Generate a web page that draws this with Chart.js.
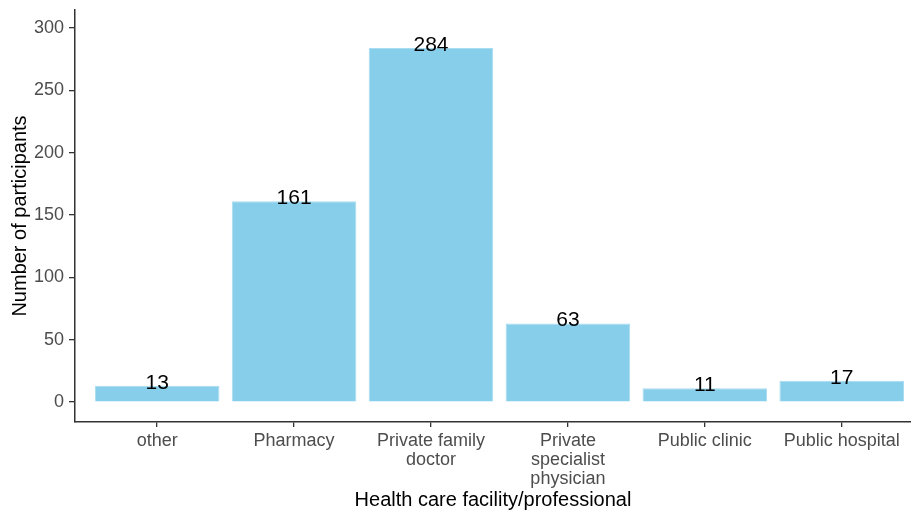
<!DOCTYPE html>
<html>
<head>
<meta charset="utf-8">
<script src="https://cdn.jsdelivr.net/npm/chart.js@4/dist/chart.umd.min.js"></script>
<style>
  html, body { margin: 0; padding: 0; background: #fff; }
  #wrap { width: 911px; height: 510px; }
</style>
</head>
<body>
<div id="wrap"><canvas id="facilityChart" width="911" height="510"></canvas></div>
<script>
// ======== Data ========
const categories = ['other', 'Pharmacy', 'Private family doctor', 'Private specialist physician', 'Public clinic', 'Public hospital'];
const tickLabels = [['other'], ['Pharmacy'], ['Private family', 'doctor'], ['Private', 'specialist', 'physician'], ['Public clinic'], ['Public hospital']];
const participants = [13, 161, 284, 63, 11, 17];
const yTicks = [0, 50, 100, 150, 200, 250, 300];

// value labels on top of bars
const barValueLabels = {
  id: 'barValueLabels',
  afterDatasetsDraw(chart) {
    const ctx = chart.ctx;
    const meta = chart.getDatasetMeta(0);
    ctx.save();
    ctx.font = '21px "Liberation Sans", Arial, sans-serif';
    ctx.fillStyle = '#000';
    ctx.textAlign = 'center';
    ctx.textBaseline = 'alphabetic';
    meta.data.forEach(function(bar, i) {
      ctx.fillText(String(participants[i]), bar.x, bar.y + 3);
    });
    ctx.restore();
  }
};

const ctx = document.getElementById('facilityChart').getContext('2d');
new Chart(ctx, {
  type: 'bar',
  data: {
    datasets: [{
      label: 'Number of participants',
      data: participants.map(function(v, i) { return {x: i, y: v}; }),
      backgroundColor: '#87CEEB',
      borderColor: '#a9dcf0',
      borderWidth: 1,
      barPercentage: 0.91,
      categoryPercentage: 1
    }]
  },
  options: {
    responsive: false,
    animation: false,
    layout: { padding: { top: 10, right: 0, left: 0, bottom: 0 } },
    plugins: { legend: { display: false }, tooltip: { enabled: false } },
    scales: {
      x: {
        type: 'linear',
        offset: false,
        min: -0.6,
        max: 5.506,
        afterBuildTicks: function(scale) { scale.ticks = categories.map(function(c, i) { return {value: i}; }); },
        afterFit: function(scale) {
          scale.height = 88;
          scale.paddingLeft = 0;
          scale.paddingRight = 0;
        },
        ticks: {
          callback: function(v) { return tickLabels[v]; },
          color: '#4d4d4d',
          font: { family: '"Liberation Sans", Arial, sans-serif', size: 18, lineHeight: 1.06 },
          padding: 4,
          maxRotation: 0,
          autoSkip: false
        },
        grid: { offset: false, drawOnChartArea: false, drawTicks: true, tickLength: 5, color: '#333', lineWidth: 1.3 },
        border: { color: '#333', width: 1.5 },
        title: {
          display: true,
          text: 'Health care facility/professional',
          color: '#000',
          font: { family: '"Liberation Sans", Arial, sans-serif', size: 20, lineHeight: 1 },
          padding: { top: 0, bottom: 0 }
        }
      },
      y: {
        min: -16,
        max: 314.4,
        afterBuildTicks: function(scale) { scale.ticks = yTicks.map(function(v) { return {value: v}; }); },
        afterFit: function(scale) {
          scale.width = 75;
          scale.paddingTop = 0;
          scale.paddingBottom = 0;
        },
        ticks: {
          color: '#4d4d4d',
          font: { family: '"Liberation Sans", Arial, sans-serif', size: 18 },
          padding: 5
        },
        grid: { drawOnChartArea: false, drawTicks: true, tickLength: 6, color: '#333', lineWidth: 1.3 },
        border: { color: '#333', width: 1.5 },
        title: {
          display: true,
          text: 'Number of participants',
          color: '#000',
          font: { family: '"Liberation Sans", Arial, sans-serif', size: 20, lineHeight: 1.2 },
          padding: { top: 8, bottom: 0 }
        }
      }
    }
  },
  plugins: [barValueLabels]
});
</script>
</body>
</html>
